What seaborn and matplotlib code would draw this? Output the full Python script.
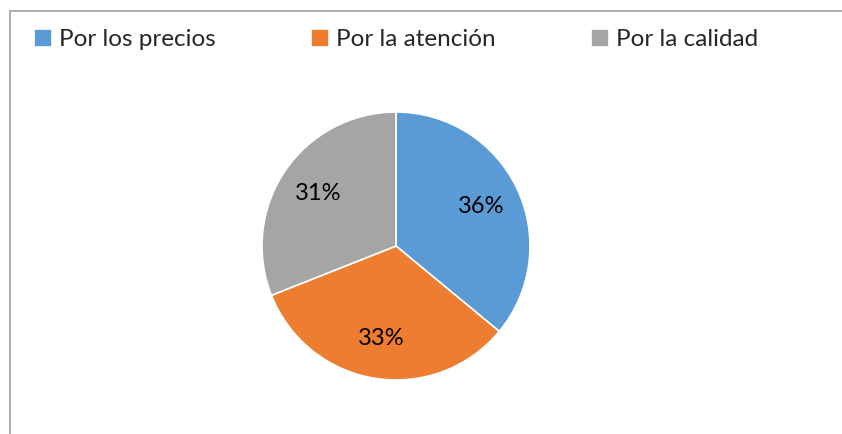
import seaborn as sns
import matplotlib.pyplot as plt
from matplotlib.lines import Line2D

# Why customers choose the shop
labels = ['Por los precios', 'Por la atención', 'Por la calidad']
shares = [36, 33, 31]
colors = ['#5B9BD5', '#ED7D31', '#A5A5A5']

sns.set_theme(style='white')
plt.rcParams['font.family'] = ['Lato', 'DejaVu Sans']

W, H = 842, 434
fig = plt.figure(figsize=(W / 100, H / 100), dpi=100)

# chart frame (only left and top edges show in the crop)
fig.add_artist(Line2D([9.5 / W, 9.5 / W], [0, 1 - 11 / H], transform=fig.transFigure,
                      color='#A0A0A0', lw=1.2))
fig.add_artist(Line2D([9.5 / W, 1], [1 - 11 / H, 1 - 11 / H], transform=fig.transFigure,
                      color='#A0A0A0', lw=1.2))

cx, cy, r = 396, 246, 134
ax = fig.add_axes([(cx - r) / W, (H - cy - r) / H, 2 * r / W, 2 * r / H])
wedges, texts, autotexts = ax.pie(shares, colors=colors, startangle=90, counterclock=False,
                                  autopct='%d%%', pctdistance=0.7,
                                  wedgeprops=dict(edgecolor='white', linewidth=1.2),
                                  textprops=dict(fontsize=17, color='black'))
ax.set_xlim(-1, 1)
ax.set_ylim(-1, 1)
ax.set_aspect('equal')

fig.legend(wedges, labels, loc='upper left', bbox_to_anchor=(24 / W, 1 - 19 / H),
           ncol=3, frameon=False, fontsize=17.5, handlelength=0.75, handleheight=0.75,
           handletextpad=0.3, columnspacing=3.9, borderaxespad=0)

fig.savefig('out.png', dpi=100)
